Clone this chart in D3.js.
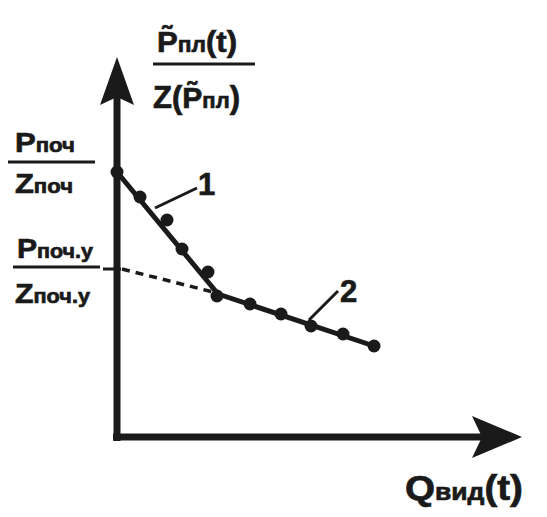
<!DOCTYPE html>
<html>
<head>
<meta charset="utf-8">
<script src="https://cdn.jsdelivr.net/npm/d3@7"></script>
<style>
  html, body { margin: 0; padding: 0; background: #fff; }
  svg { display: block; }
  text { font-family: "Liberation Sans", Arial, sans-serif; font-weight: bold; fill: #1a1a1a; stroke: #1a1a1a; stroke-width: 0.7; }
</style>
</head>
<body>
<svg id="chart" width="547" height="517"></svg>
<script>
// ---- data (relative units) ----
const qValues = [0, 5.75, 12.5, 16.25, 22.75, 25, 33.25, 41, 48.5, 56.5, 64.25];
const pValues = [66.25, 60, 54.25, 47, 41.25, 35.25, 33.25, 30.75, 27.75, 25.75, 22.75];
const trend1Q = [0, 25.25];
const trend1P = [66.25, 35.75];
const trend2Q = [25.25, 64.25];
const trend2P = [35.75, 22.75];
const dashQ = [1.25, 24];
const dashP = [42, 36.25];
const tickP = [42];
const curveLabels = ["1", "2"];
const labelQ = [20.25, 55.75];
const labelP = [60.5, 33.75];
const leaderFromQ = [20, 55.25];
const leaderFromP = [62.25, 36.5];
const leaderToQ = [9.5, 48];
const leaderToP = [57.25, 29.25];

const C = "#1a1a1a";
const svg = d3.select("#chart");
const x = d3.scaleLinear().domain([0, 100]).range([117, 517]);
const y = d3.scaleLinear().domain([0, 100]).range([437, 37]);

// ---- axes ----
const xTip = 101.25, yTip = 95;
svg.append("line").attr("x1", x(-1)).attr("x2", x(92)).attr("y1", y(0)).attr("y2", y(0))
  .attr("stroke", C).attr("stroke-width", 7);
svg.append("line").attr("x1", x(0)).attr("x2", x(0)).attr("y1", y(-1)).attr("y2", y(86))
  .attr("stroke", C).attr("stroke-width", 7);
const xt = [x(xTip), y(0)];
svg.append("path").attr("fill", C)
  .attr("d", `M${xt[0]},${xt[1]} L${xt[0]-50},${xt[1]-21} L${xt[0]-40},${xt[1]} L${xt[0]-50},${xt[1]+21} Z`);
const yt = [x(0), y(yTip)];
svg.append("path").attr("fill", C)
  .attr("d", `M${yt[0]},${yt[1]} L${yt[0]-17},${yt[1]+48} L${yt[0]},${yt[1]+40} L${yt[0]+17},${yt[1]+48} Z`);

// tick on y axis
svg.selectAll(".tick").data(tickP).enter().append("line")
  .attr("x1", x(0) - 14).attr("x2", x(0) + 4)
  .attr("y1", d => y(d)).attr("y2", d => y(d))
  .attr("stroke", C).attr("stroke-width", 3);

// dashed extension
const line = d3.line().x(d => x(d[0])).y(d => y(d[1]));
svg.append("path").attr("d", line(d3.zip(dashQ, dashP)))
  .attr("fill", "none").attr("stroke", C).attr("stroke-width", 3.5).attr("stroke-dasharray", "8,6");

// trend lines
[[trend1Q, trend1P], [trend2Q, trend2P]].forEach(([q, p]) => {
  svg.append("path").attr("d", line(d3.zip(q, p)))
    .attr("fill", "none").attr("stroke", C).attr("stroke-width", 5).attr("stroke-linecap", "round");
});

// points
svg.selectAll(".pt").data(d3.zip(qValues, pValues)).enter().append("circle")
  .attr("cx", d => x(d[0])).attr("cy", d => y(d[1])).attr("r", 6.5).attr("fill", C);

// leaders & curve labels
curveLabels.forEach((t, i) => {
  svg.append("line")
    .attr("x1", x(leaderFromQ[i])).attr("y1", y(leaderFromP[i]))
    .attr("x2", x(leaderToQ[i])).attr("y2", y(leaderToP[i]))
    .attr("stroke", C).attr("stroke-width", 3);
  svg.append("text").attr("x", x(labelQ[i])).attr("y", y(labelP[i]))
    .attr("font-size", 31).text(t);
});

// ---- axis titles ----
function rich(parent, xPos, yPos, len, parts) {
  const t = parent.append("text").attr("x", xPos).attr("y", yPos)
    .attr("textLength", len).attr("lengthAdjust", "spacingAndGlyphs");
  parts.forEach(p => t.append("tspan").attr("font-size", p[1]).text(p[0]));
  return t;
}
// y title (fraction)
rich(svg, 157, 52, 80, [["P\u0303", 30], ["пл", 22], ["(t)", 30]]);
svg.append("line").attr("x1", 153).attr("x2", 255).attr("y1", 64).attr("y2", 64).attr("stroke", C).attr("stroke-width", 3);
rich(svg, 153, 108, 87, [["Z(", 31], ["P\u0303", 30], ["пл", 22], [")", 31]]);

// initial value label
rich(svg, 15, 152, 60, [["P", 28], ["поч", 20]]);
svg.append("line").attr("x1", 8).attr("x2", 95).attr("y1", 162).attr("y2", 162).attr("stroke", C).attr("stroke-width", 3);
rich(svg, 15, 193, 58, [["Z", 28], ["поч", 20]]);

// steady value label
rich(svg, 17, 258, 76, [["P", 28], ["поч.у", 20]]);
svg.append("line").attr("x1", 13).attr("x2", 100).attr("y1", 267).attr("y2", 267).attr("stroke", C).attr("stroke-width", 3);
rich(svg, 15, 303, 75, [["Z", 28], ["поч.у", 20]]);

// x title
rich(svg, 405, 500, 118, [["Q", 35], ["вид", 24], ["(t)", 35]]);
</script>
</body>
</html>
